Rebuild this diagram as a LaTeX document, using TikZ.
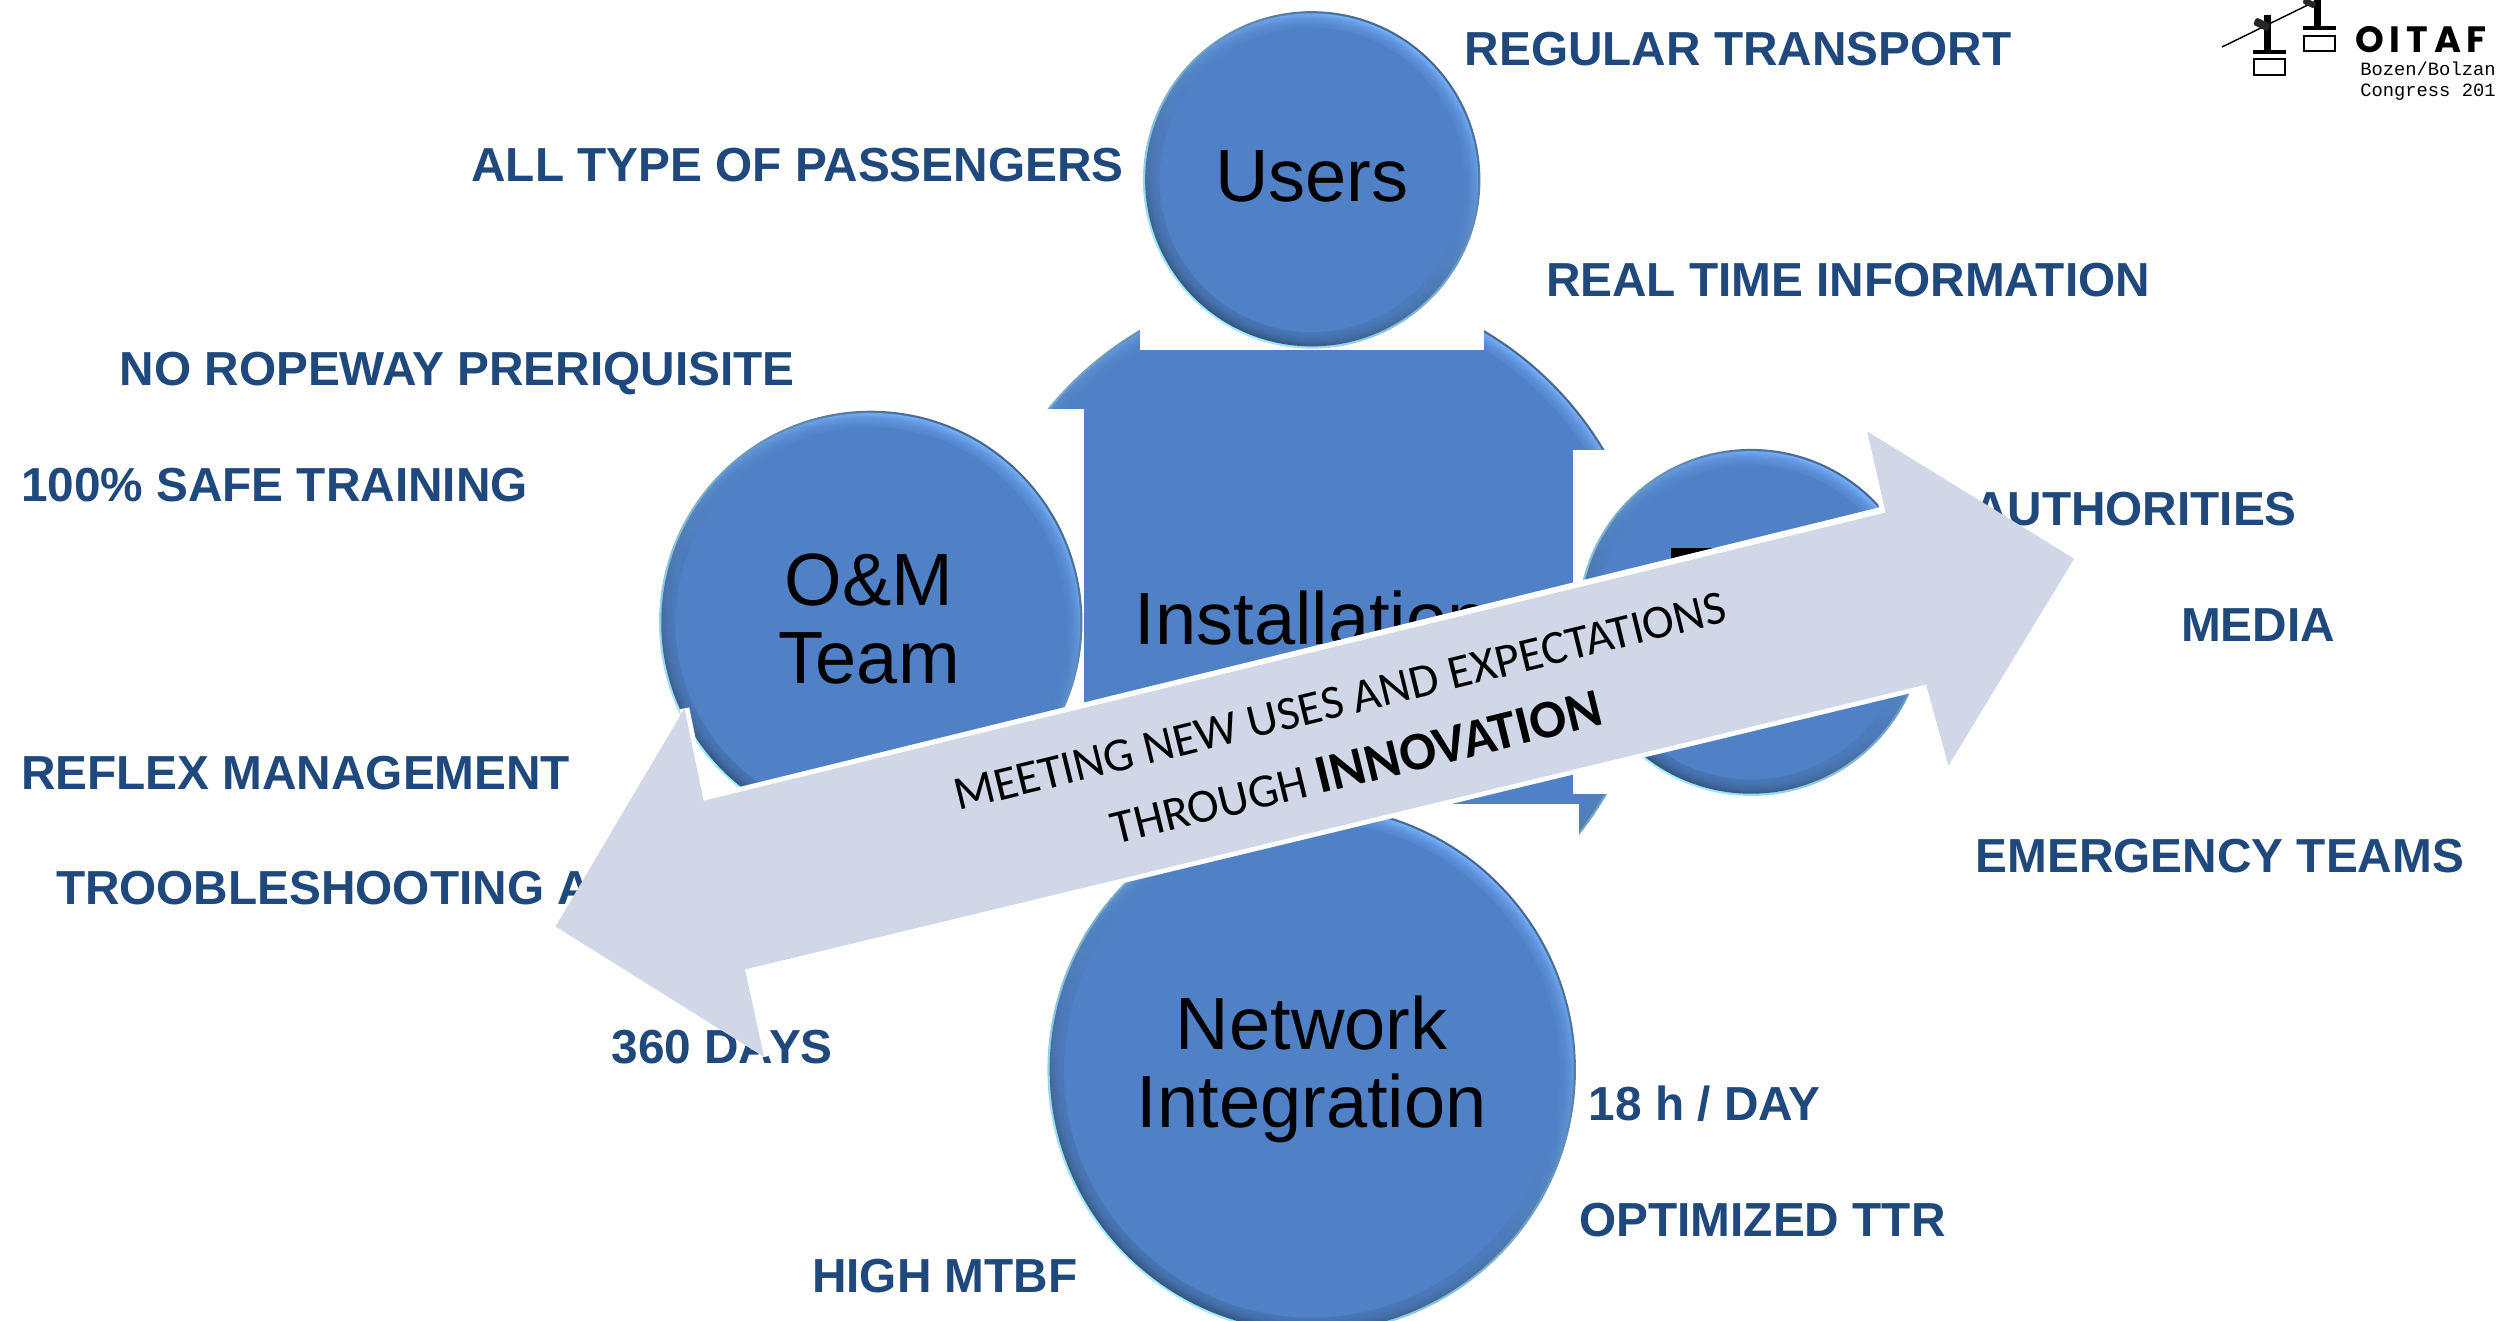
\documentclass[tikz,border=0pt]{standalone}
\usepackage{fontspec}
\setmainfont{Liberation Sans}
\newfontfamily\arrowfont{Carlito}
\newfontfamily\logofont[LetterSpace=16]{Poppins}
\newfontfamily\logomono{Liberation Mono}
\definecolor{ballblue}{HTML}{5080C6}
\definecolor{labelblue}{HTML}{1F497D}
\definecolor{arrowfill}{HTML}{D0D8E8}
\definecolor{ringlight}{HTML}{74AEFA}
\definecolor{ringdark}{HTML}{345680}
\definecolor{rimdark}{HTML}{466690}
\definecolor{rimcyan}{HTML}{A5ECFF}
\tikzset{
  ball/.style={circle,minimum size=#1 pt,inner sep=0pt,
    path picture={
      \pgfmathsetmacro{\rr}{#1/2}
      \shade[top color=rimdark,bottom color=rimcyan,shading angle=-40]
        (path picture bounding box.center) circle [radius=\rr pt];
      \shade[top color=ringlight,bottom color=ringdark,shading angle=-30]
        (path picture bounding box.center) circle [radius=\rr pt-1.4pt];
      \foreach \k in {0,...,7}{
        \fill[ballblue,opacity=.17] (path picture bounding box.center) circle [radius=\rr pt-2.4pt-\k pt];
      }
      \fill[ballblue] (path picture bounding box.center) circle [radius=\rr pt-10.4pt];
    }},
  lbl/.style={anchor=base west,inner sep=0pt,text=labelblue,font=\fontsize{30}{36}\selectfont\bfseries},
  lble/.style={lbl,anchor=base east},
  ballword/.style={inner sep=0pt,text=black,align=center,font=\fontsize{46.5}{49}\selectfont},
  logoline/.style={draw=black,line width=.9pt},
  logobar/.style={fill=black,draw=none},
  logocar/.style={fill=black!85,rounded corners=1pt},
}
\begin{document}
\begin{tikzpicture}[x=1pt,y=-1pt]
\useasboundingbox (0,0) rectangle (1568,829.85);
\fill[white] (0,0) rectangle (1568,829.85);

% central hub and the white panels of the surrounding balls
\node[ball=428] (hub) at (824,392) {};
\fill[white] (716,170) rectangle (932,220);
\fill[white] (600,257) rectangle (681,530);
\fill[white] (988,283) rectangle (1050,499);
\fill[white] (600,505) rectangle (992,630);

\node[ballword,anchor=base] (inst) at (824,405) {Installation};

% surrounding balls
\node[ball=212] (users) at (824,113) {};
\node[ballword] (usersw) at (824,111) {Users};
\node[ball=266] (om) at (547,391) {};
\node[ballword] (omw) at (546,389) {O\&M\\Team};
\node[ball=218] (third) at (1100,391) {};
\fill[black] (1050,344.5) rectangle (1079,351);
\begin{scope}
\clip (0,0) rectangle (1568,829.85);
\node[ball=332] (net) at (824,672) {};
\node[ballword] (netw) at (824,672) {Network\\Integration};
\end{scope}

% labels
\node[lbl] (l1) at (920,41) {REGULAR TRANSPORT};
\node[lbl] (l2) at (296,114) {ALL TYPE OF PASSENGERS};
\node[lbl] (l3) at (971,186) {REAL TIME INFORMATION};
\node[lbl] (l4) at (75,242) {NO ROPEWAY PRERIQUISITE};
\node[lbl] (l5) at (13,315) {100\% SAFE TRAINING};
\node[lble] (l6) at (1443,330) {AUTHORITIES};
\node[lbl] (l7) at (1370,403) {MEDIA};
\node[lbl] (l8) at (13,496) {REFLEX MANAGEMENT};
\node[lbl] (l9) at (35,568) {TROOBLESHOOTING A};
\node[lbl] (l10) at (1241,548) {EMERGENCY TEAMS};
\node[lbl] (l11) at (384,668) {360 DAYS};
\node[lbl] (l12) at (998,704) {18 h / DAY};
\node[lbl] (l13) at (992,777) {OPTIMIZED TTR};
\node[lbl] (l14) at (510,812) {HIGH MTBF};

% double arrow
\draw[white,line width=6pt,line cap=butt,line join=miter]
  (430,445) -- (442,503) -- (1184,321) -- (1173,272);
\draw[white,line width=6pt,line join=miter]
  (480,664) -- (468,609) -- (1210,430) -- (1224,481);
\fill[arrowfill] (1303,351) -- (1173,271) -- (1184.5,322) -- (442,503) -- (430,445)
  -- (349,582) -- (480,664) -- (468,609) -- (1210,430) -- (1224,481) -- cycle;
\node[rotate=13.8,inner sep=0pt,align=center,text=black,
  font=\arrowfont\fontsize{30}{44}\selectfont] (msg) at (847,462)
  {MEETING NEW USES AND EXPECTATIONS\\THROUGH {\fontsize{34}{44}\selectfont\bfseries INNOVATION}};

% logo (coordinates in reference pixels)
\begin{scope}[x=0.6282pt,y=-0.6282pt]
\draw[logoline] (2222,47) -- (2318,0);
\fill[logobar] (2264,15) rectangle (2271,52);
\fill[logobar] (2253,50) rectangle (2286,54);
\draw[line width=.8pt] (2254,59) rectangle (2285,75);
\fill[logobar] (2314,0) rectangle (2321,28);
\fill[logobar] (2303,26) rectangle (2336,30);
\draw[line width=.8pt] (2304,36) rectangle (2335,51);
\fill[logocar,rotate around={-25:(2261,24)}] (2254,20) rectangle (2270,28);
\fill[logocar,rotate around={-25:(2309,3)}] (2303,0) rectangle (2316,6);
\node[anchor=base west,inner sep=0pt,font=\logofont\bfseries\fontsize{23}{24}\selectfont] (oitaf) at (2355,52) {OITAF};
\node[anchor=base west,inner sep=0pt,font=\logomono\fontsize{11.8}{13}\selectfont] (city) at (2360,75) {Bozen/Bolzan};
\node[anchor=base west,inner sep=0pt,font=\logomono\fontsize{11.8}{13}\selectfont] (cong) at (2360,96.5) {Congress 201};
\end{scope}
\end{tikzpicture}
\end{document}
